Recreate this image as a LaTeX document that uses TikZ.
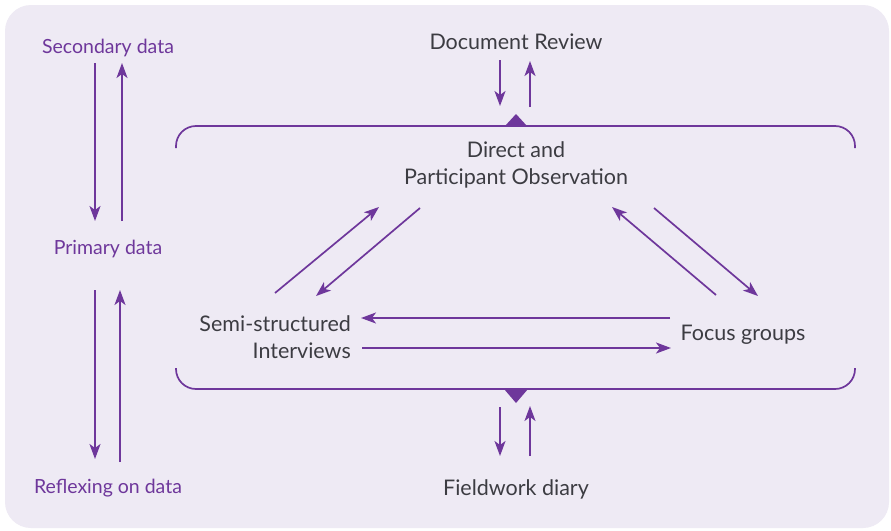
\documentclass[tikz,border=0pt]{standalone}
\usepackage{fontspec}
\setmainfont{Lato}
\usetikzlibrary{arrows.meta}
\definecolor{panel}{RGB}{238,234,244}
\definecolor{plum}{RGB}{110,55,155}
\definecolor{ink}{RGB}{60,60,66}
\tikzset{
  conn/.style={draw=plum, line width=1.7pt, -{Stealth[length=15pt,width=11pt,inset=4pt]}},
  brace/.style={draw=plum, line width=1.7pt, rounded corners=20pt},
  sidelabel/.style={text=plum, font=\fontsize{19.5}{24}\selectfont, inner sep=0pt},
  mainlabel/.style={text=ink, font=\fontsize{21.5}{27}\selectfont, inner sep=0pt, align=center},
}
\begin{document}
\begin{tikzpicture}[x=1pt,y=-1pt]
\useasboundingbox (0,0) rectangle (891,530);
\fill[white] (0,0) rectangle (891,530);
\fill[panel, rounded corners=26pt] (5,5) rectangle (889,528);

% left column
\node[sidelabel] (sec) at (108,47.5) {Secondary data};
\node[sidelabel] (pri) at (108,248.5) {Primary data};
\node[sidelabel] (ref) at (108,488.5) {Reflexing on data};
\coordinate (s1) at (95,63);  \coordinate (p1) at (95,221);
\coordinate (p2) at (122,221); \coordinate (s2) at (122,63);
\coordinate (p3) at (95,290); \coordinate (r1) at (95,459);
\coordinate (r2) at (120,462); \coordinate (p4) at (120,290);
\draw[conn] (s1) -- (p1);
\draw[conn] (p2) -- (s2);
\draw[conn] (p3) -- (r1);
\draw[conn] (r2) -- (p4);

% main labels
\node[mainlabel] (doc) at (516,41.5) {Document Review};
\node[mainlabel] (obs) at (516,165) {Direct and\\Participant Observation};
\node[mainlabel, align=right, anchor=east] (semi) at (351,337) {Semi-structured\\Interviews};
\node[mainlabel] (focus) at (743,334.5) {Focus groups};
\node[mainlabel] (diary) at (516,489.5) {Fieldwork diary};

% brackets
\draw[brace] (176,148) |- (855,126) -- (855,148);
\draw[brace] (176,368) |- (855,389) -- (855,368);
\fill[plum] (505,126) -- (516,114) -- (527,126) -- cycle;
\fill[plum] (504,389) -- (516,403) -- (528,389) -- cycle;

% document review / fieldwork diary
\coordinate (d1) at (500,60);  \coordinate (t1) at (500,106);
\coordinate (t2) at (530,107); \coordinate (d2) at (530,61);
\draw[conn] (d1) -- (t1);
\draw[conn] (t2) -- (d2);
\coordinate (b1) at (500,407); \coordinate (f1) at (500,456);
\coordinate (f2) at (530,456); \coordinate (b2) at (530,406);
\draw[conn] (b1) -- (f1);
\draw[conn] (f2) -- (b2);

% triangle of methods
\coordinate (sa) at (275,293); \coordinate (oa) at (379,207);
\coordinate (ob) at (420,208); \coordinate (sb) at (316,296);
\coordinate (fa) at (716,295); \coordinate (oc) at (612,207);
\coordinate (od) at (654,208); \coordinate (fb) at (758,296);
\coordinate (fc) at (670,318); \coordinate (sc) at (361,318);
\coordinate (sd) at (362,348); \coordinate (fd) at (671,348);
\draw[conn] (sa) -- (oa);
\draw[conn] (ob) -- (sb);
\draw[conn] (fa) -- (oc);
\draw[conn] (od) -- (fb);
\draw[conn] (fc) -- (sc);
\draw[conn] (sd) -- (fd);
\end{tikzpicture}
\end{document}
